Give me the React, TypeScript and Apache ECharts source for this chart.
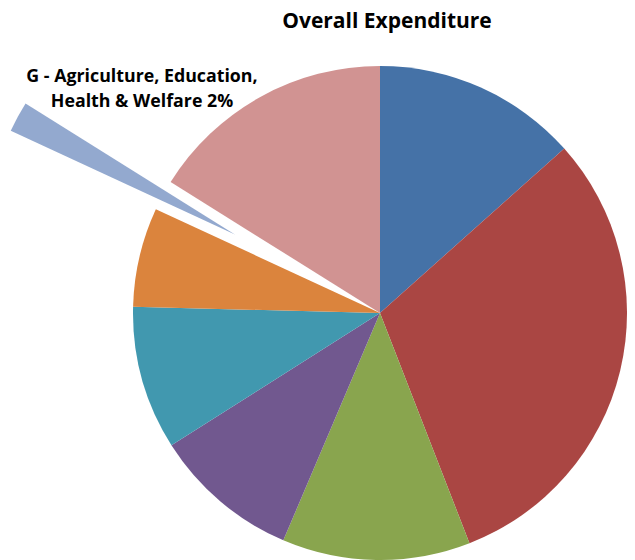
import React, { useEffect, useRef } from "react";
import * as echarts from "echarts";

const categories = ["A", "B", "C", "D", "E", "F", "G - Agriculture, Education, Health & Welfare", "H"];
const values = [13.4, 30.7, 12.3, 9.6, 9.4, 6.5, 2, 16.1];
const colors = ["#4572A7", "#AA4643", "#89A54E", "#71588F", "#4198AF", "#DB843D", "#93A9CF", "#D19392"];
const labelledIndex = 6;

export default function App() {
  const ref = useRef<HTMLDivElement>(null);
  useEffect(() => {
    document.body.style.margin = "0";
    const chart = echarts.init(ref.current!, undefined, { renderer: "svg" });
    const total = values.reduce((a, b) => a + b, 0);
    const pct = Math.round((values[labelledIndex] / total) * 100);
    const parts = categories[labelledIndex].split(", ");
    const labelText = parts[0] + ", " + parts[1] + ",\n" + parts[2] + " " + pct + "%";
    const data = categories.map((name, i) => ({
      name,
      value: values[i],
      selected: i === labelledIndex,
      itemStyle: { color: colors[i] },
    }));
    chart.setOption({
      animation: false,
      title: {
        text: "Overall Expenditure",
        left: 382,
        top: 4,
        textAlign: "center",
        textStyle: { fontFamily: "Open Sans", fontWeight: "bold", fontSize: 21, color: "#000" },
      },
      graphic: [
        {
          type: "text",
          x: 142,
          y: 87,
          style: {
            text: labelText,
            fontFamily: "Open Sans",
            fontWeight: "bold",
            fontSize: 17.8,
            lineHeight: 25,
            fill: "#000",
            align: "center",
            verticalAlign: "middle",
          },
        },
      ],
      series: [
        {
          type: "pie",
          center: [380, 313],
          radius: 247,
          startAngle: 90,
          clockwise: true,
          selectedMode: "single",
          selectedOffset: 165,
          emphasis: { disabled: true },
          itemStyle: { borderWidth: 0 },
          label: { show: false },
          labelLine: { show: false },
          data,
        },
      ],
    });
    return () => chart.dispose();
  }, []);
  return <div ref={ref} style={{ width: 635, height: 560 }} />;
}
